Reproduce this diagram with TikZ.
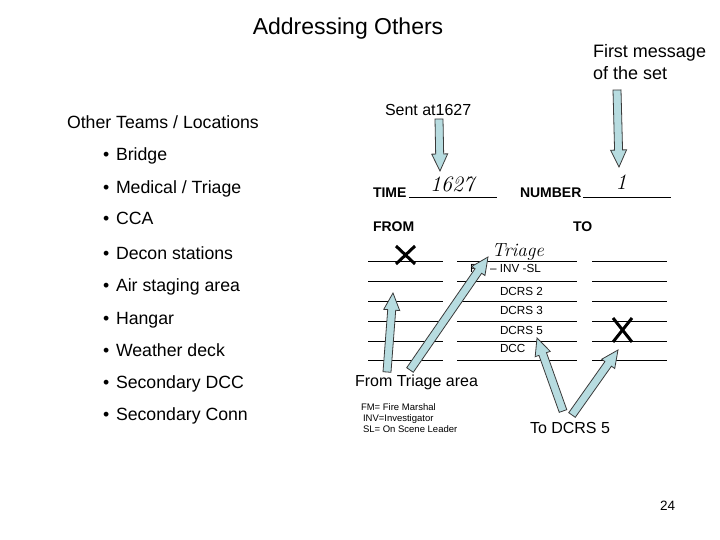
\documentclass[tikz,border=0pt]{standalone}
\usepackage{fontspec}
\setmainfont{Liberation Sans}
\newfontfamily\handfont{Latin Modern Roman}
\usetikzlibrary{calc}
\definecolor{arrowfill}{HTML}{B7DCE0}
\definecolor{arrowline}{HTML}{3A3A3A}
\tikzset{
  txt/.style={inner sep=0pt, outer sep=0pt, anchor=base west, font=\fontsize{#1}{#1}\selectfont},
  txt/.default=17.7,
  ctxt/.style={inner sep=0pt, outer sep=0pt, anchor=base, font=\fontsize{#1}{#1}\selectfont},
  ctxt/.default=17.7,
  btxt/.style={inner sep=0pt, outer sep=0pt, anchor=base west, font=\fontsize{#1}{#1}\selectfont\bfseries},
  btxt/.default=14,
  hand/.style={inner sep=0pt, outer sep=0pt, anchor=center, font=\fontsize{#1}{#1}\selectfont\handfont\itshape},
  hand/.default=18,
  formline/.style={line width=1pt, black},
  xmark/.style={line width=3pt, black},
  barrow/.style={fill=arrowfill, draw=arrowline, line width=0.8pt, line join=miter},
}
\newcommand\blockarrow[2]{%
  \coordinate (ba-c) at ($(#2)!17pt!(#1)$);
  \filldraw[barrow] ($(#1)!4pt!90:(#2)$) -- ($(ba-c)!4pt!90:(#2)$) -- ($(ba-c)!8pt!90:(#2)$)
    -- (#2) -- ($(ba-c)!8pt!-90:(#2)$) -- ($(ba-c)!4pt!-90:(#2)$) -- ($(#1)!4pt!-90:(#2)$) -- cycle;
}
\begin{document}
\begin{tikzpicture}[x=1pt, y=-1pt]
\useasboundingbox[fill=white] (0,0) rectangle (720,540);

% title
\node[ctxt=23] (title) at (348,35) {Addressing Others};

% left list
\node[txt] (teams) at (67,129) {Other Teams / Locations};
\foreach \y/\t [count=\i] in {161/{Bridge}, 194/{Medical / Triage}, 225/{CCA}, 259/{Decon stations},
   291/{Air staging area}, 324/{Hangar}, 356/{Weather deck}, 388/{Secondary DCC}, 420/{Secondary Conn}}{
  \node[txt] (bul\i) at (103,\y) {•};
  \node[txt] (item\i) at (116,\y) {\t};
}

% annotations top
\node[txt=16] (sent) at (385,116) {Sent at1627};
\node[txt=18] (first1) at (593,58) {First message};
\node[txt=18] (first2) at (593,80) {of the set};

% form header
\node[btxt] (time) at (373,197) {TIME};
\draw[formline] (409,198) -- (497,198);
\node[hand=22] (timev) at (452,184) {1627};
\node[btxt] (number) at (520,197) {NUMBER};
\draw[formline] (583,198) -- (671,198);
\node[hand=22] (numv) at (621,182) {1};
\node[btxt] (from) at (373,232) {FROM};
\node[btxt] (to) at (573,232) {TO};

% form lines
\foreach \y in {261,281,301,321,341,360}{
  \draw[formline] (368,\y) -- (443,\y);
  \draw[formline] (457,\y) -- (577,\y);
  \draw[formline] (592,\y) -- (667,\y);
}

% middle column entries
\node[hand=19] (triage) at (518,252) {Triage};
\node[txt=11.7] (fm) at (470,272) {FM – INV -SL};
\node[txt=11.7] (d2) at (500,295) {DCRS 2};
\node[txt=11.7] (d3) at (500,314) {DCRS 3};
\node[txt=11.7] (d5) at (500,334) {DCRS 5};
\node[txt=11.7] (dcc) at (500,352) {DCC};

% X marks
\draw[xmark] (396,246) -- (415,264) (396,264) -- (415,246);
\draw[xmark] (613,318) -- (632,342) (613,342) -- (632,318);

% bottom labels
\node[txt=16] (fromtri) at (355,386) {From Triage area};
\node[txt=9.5] (leg1) at (361,410) {FM= Fire Marshal};
\node[txt=9.5] (leg2) at (363,421) {INV=Investigator};
\node[txt=9.5] (leg3) at (363,432) {SL= On Scene Leader};
\node[txt=16] (todcrs) at (530,433) {To DCRS 5};
\node[txt=13.5] (page) at (660,510) {24};

% arrow end points
\coordinate (a1s) at (439,119); \coordinate (a1e) at (440,171);
\coordinate (a2s) at (617,90);  \coordinate (a2e) at (619,167);
\coordinate (a3s) at (387,372); \coordinate (a3e) at (393,293);
\coordinate (a4s) at (410,370); \coordinate (a4e) at (488,257);
\coordinate (a5s) at (563,411); \coordinate (a5e) at (537,338);
\coordinate (a6s) at (572,415); \coordinate (a6e) at (618,350);
\blockarrow{a1s}{a1e}
\blockarrow{a2s}{a2e}
\blockarrow{a3s}{a3e}
\blockarrow{a4s}{a4e}
\blockarrow{a5s}{a5e}
\blockarrow{a6s}{a6e}
\end{tikzpicture}
\end{document}
